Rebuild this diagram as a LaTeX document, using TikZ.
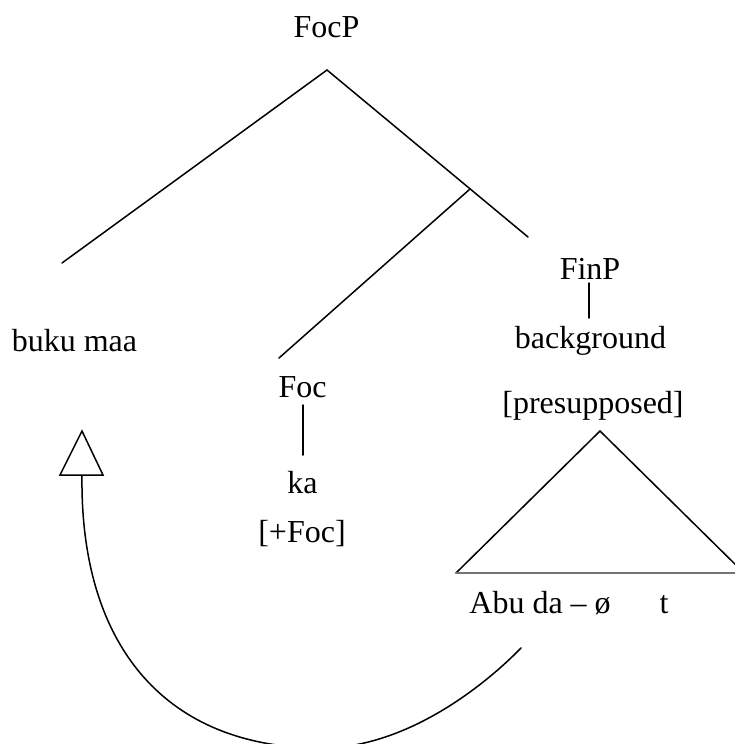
\documentclass[tikz,border=0pt]{standalone}
\usepackage{fontspec}
\setmainfont{Liberation Serif}
\begin{document}
\begin{tikzpicture}[x=0.5pt,y=-0.5pt,
  lbl/.style={anchor=base,inner sep=0pt,font=\fontsize{16}{19}\selectfont},
  edge/.style={line width=0.75pt,line cap=round},
  base/.style={line width=0.55pt,draw=black!55}]
\useasboundingbox (0,0) rectangle (734,744);
% labels
\node[lbl] (focp) at (326.5,37) {FocP};
\node[lbl] (bukumaa) at (74.5,351) {buku maa};
\node[lbl] (finp) at (590,279) {FinP};
\node[lbl] (bg) at (590.5,348) {background};
\node[lbl] (foc) at (302.5,397) {Foc};
\node[lbl] (ka) at (302.5,493) {ka};
\node[lbl] (plusfoc) at (302,542) {[+Foc]};
\node[lbl] (presup) at (593,413) {[presupposed]};
\node[lbl,anchor=base west] (abu) at (469,613) {Abu da -- ø};
\node[lbl] (t) at (664,613) {t};
% tree coordinates
\coordinate (top) at (327,70);
\coordinate (lend) at (62,263);
\coordinate (rend) at (528,237);
\coordinate (mid) at (470,189);
\coordinate (fend) at (279,358);
\coordinate (finptop) at (589,283);
\coordinate (finpbot) at (589,318);
\coordinate (foctop) at (303,405);
\coordinate (focbot) at (303,455);
\draw[edge] (lend) -- (top) -- (rend);
\draw[edge] (mid) -- (fend);
\draw[edge] (finptop) -- (finpbot);
\draw[edge] (foctop) -- (focbot);
% big triangle
\coordinate (tapex) at (600,431);
\coordinate (tleft) at (456,573);
\coordinate (tright) at (744,573);
\draw[edge] (tleft) -- (tapex) -- (tright);
\draw[base] (tleft) -- (tright);
% movement arrow
\coordinate (mstart) at (521,648);
\coordinate (mlow) at (315,748);
\coordinate (mend) at (82,476);
\draw[edge] (mstart) .. controls (480,690) and (400,751) .. (mlow)
  .. controls (160,745) and (80,640) .. (mend);
\coordinate (ha) at (82,431);
\coordinate (hl) at (60,475);
\coordinate (hr) at (103,475);
\draw[edge,line join=miter,fill=white] (ha) -- (hl) -- (hr) -- cycle;
\end{tikzpicture}
\end{document}
